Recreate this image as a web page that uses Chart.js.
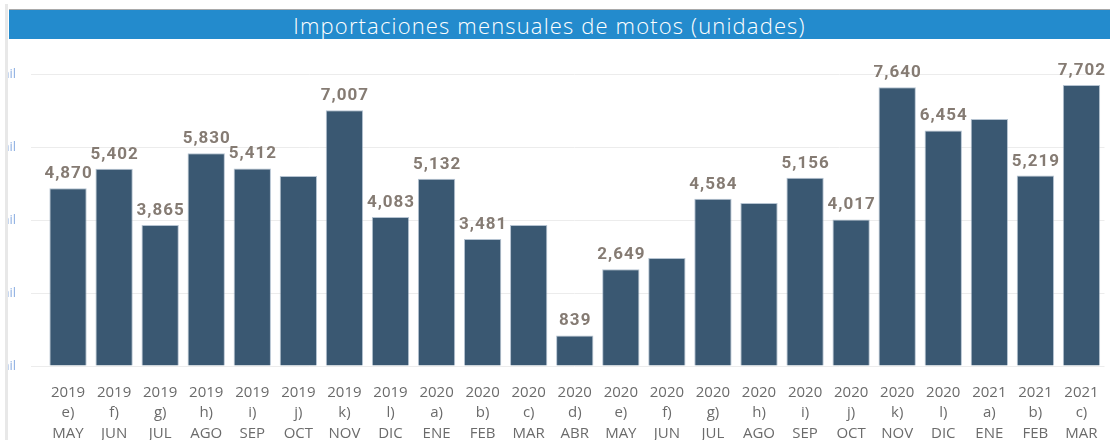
<!DOCTYPE html>
<html>
<head>
<meta charset="utf-8">
<script src="https://cdn.jsdelivr.net/npm/chart.js@4.4.1/dist/chart.umd.min.js"></script>
<style>
    html, body { margin: 0; padding: 0; background: #fff; overflow: hidden; }
    body { width: 1110px; height: 440px; position: relative; }
    .frame-left { position: absolute; left: 5px; top: 4px; bottom: 0; width: 3px; background: #e8e8e8; }
    .title-bar {
        position: absolute; left: 9px; top: 9px; width: 1101px; height: 30px;
        border-top: 1px solid #a9a9a9;
        background: #238bcd; color: #fff;
        font-family: "Open Sans", sans-serif; font-size: 22px; font-weight: 300; letter-spacing: 1.15px;
        line-height: 31px; text-align: center; padding-right: 20px; box-sizing: border-box;
    }
    .chart-wrap { position: absolute; left: 8px; top: 40px; width: 1102px; height: 400px; overflow: hidden; }
    .chart-wrap canvas { position: absolute; left: -20px; top: 0; }
</style>
</head>
<body>
<div class="frame-left"></div>
<div class="title-bar">Importaciones mensuales de motos (unidades)</div>
<div class="chart-wrap"><canvas id="motosChart" width="1127" height="400"></canvas></div>
<script>
(function() {
    // Etiquetas del eje X (tres lineas por barra)
    const years   = ['2019','2019','2019','2019','2019','2019','2019','2019',
                     '2020','2020','2020','2020','2020','2020','2020','2020','2020','2020','2020','2020',
                     '2021','2021','2021'];
    const letters = ['e)','f)','g)','h)','i)','j)','k)','l)',
                     'a)','b)','c)','d)','e)','f)','g)','h)','i)','j)','k)','l)',
                     'a)','b)','c)'];
    const months  = ['MAY','JUN','JUL','AGO','SEP','OCT','NOV','DIC',
                     'ENE','FEB','MAR','ABR','MAY','JUN','JUL','AGO','SEP','OCT','NOV','DIC',
                     'ENE','FEB','MAR'];

    // Unidades importadas (las que no tienen etiqueta estan estimadas)
    const units = [4870, 5402, 3865, 5830, 5412, 5205, 7007, 4083,
                   5132, 3481, 3863, 839, 2649, 2960, 4584, 4466, 5156, 4017, 7640, 6454,
                   6767, 5219, 7702];

    // Barras que muestran la etiqueta de valor en el original
    const showLabel = [1, 1, 1, 1, 1, 0, 1, 1,
                       1, 1, 0, 1, 1, 0, 1, 0, 1, 1, 1, 1,
                       0, 1, 1];

    const yTicks = [0, 2000, 4000, 6000, 8000];

    const labels = years.map((y, i) => [y, letters[i], months[i]]);

    const valueLabels = {
        id: 'valueLabels',
        afterDatasetsDraw(chart) {
            const ctx = chart.ctx;
            const meta = chart.getDatasetMeta(0);
            ctx.save();
            ctx.font = 'bold 17px Roboto, sans-serif';
            ctx.letterSpacing = '1px';
            ctx.fillStyle = '#857b73';
            ctx.textAlign = 'center';
            ctx.textBaseline = 'alphabetic';
            meta.data.forEach((bar, i) => {
                if (!showLabel[i]) return;
                ctx.fillText(units[i].toLocaleString('en-US'), bar.x + 0.5, bar.y - 10);
            });
            ctx.restore();
        }
    };

    const ctx = document.getElementById('motosChart').getContext('2d');
    new Chart(ctx, {
        type: 'bar',
        data: {
            labels: labels,
            datasets: [{
                data: units,
                backgroundColor: '#3a5872',
                borderColor: 'rgba(150,170,190,0.7)',
                borderWidth: 1,
                categoryPercentage: 1,
                barPercentage: 0.81
            }]
        },
        options: {
            responsive: false,
            animation: false,
            layout: { padding: { top: 34, right: 10.5, bottom: 0, left: 0 } },
            plugins: { legend: { display: false }, tooltip: { enabled: false } },
            scales: {
                x: {
                    grid: { display: false },
                    border: { display: false },
                    ticks: {
                        autoSkip: false, maxRotation: 0, minRotation: 0,
                        padding: 8,
                        color: '#6b6b6b',
                        font: { family: 'Open Sans', size: 15, lineHeight: 1.37 }
                    },
                    afterFit(scale) { scale.height = 74; }
                },
                y: {
                    min: 0, max: 8000,
                    afterBuildTicks(scale) { scale.ticks = yTicks.map(v => ({ value: v })); },
                    grid: { color: '#ececec', lineWidth: 1, drawTicks: true, tickLength: 14 },
                    border: { display: false },
                    ticks: {
                        padding: 15,
                        color: '#8fb0e2',
                        font: { family: 'Open Sans', size: 13 },
                        callback: v => (v / 1000) + ' mil'
                    },
                    afterFit(scale) { scale.width = 57; }
                }
            }
        },
        plugins: [valueLabels]
    });
})();
</script>
</body>
</html>
